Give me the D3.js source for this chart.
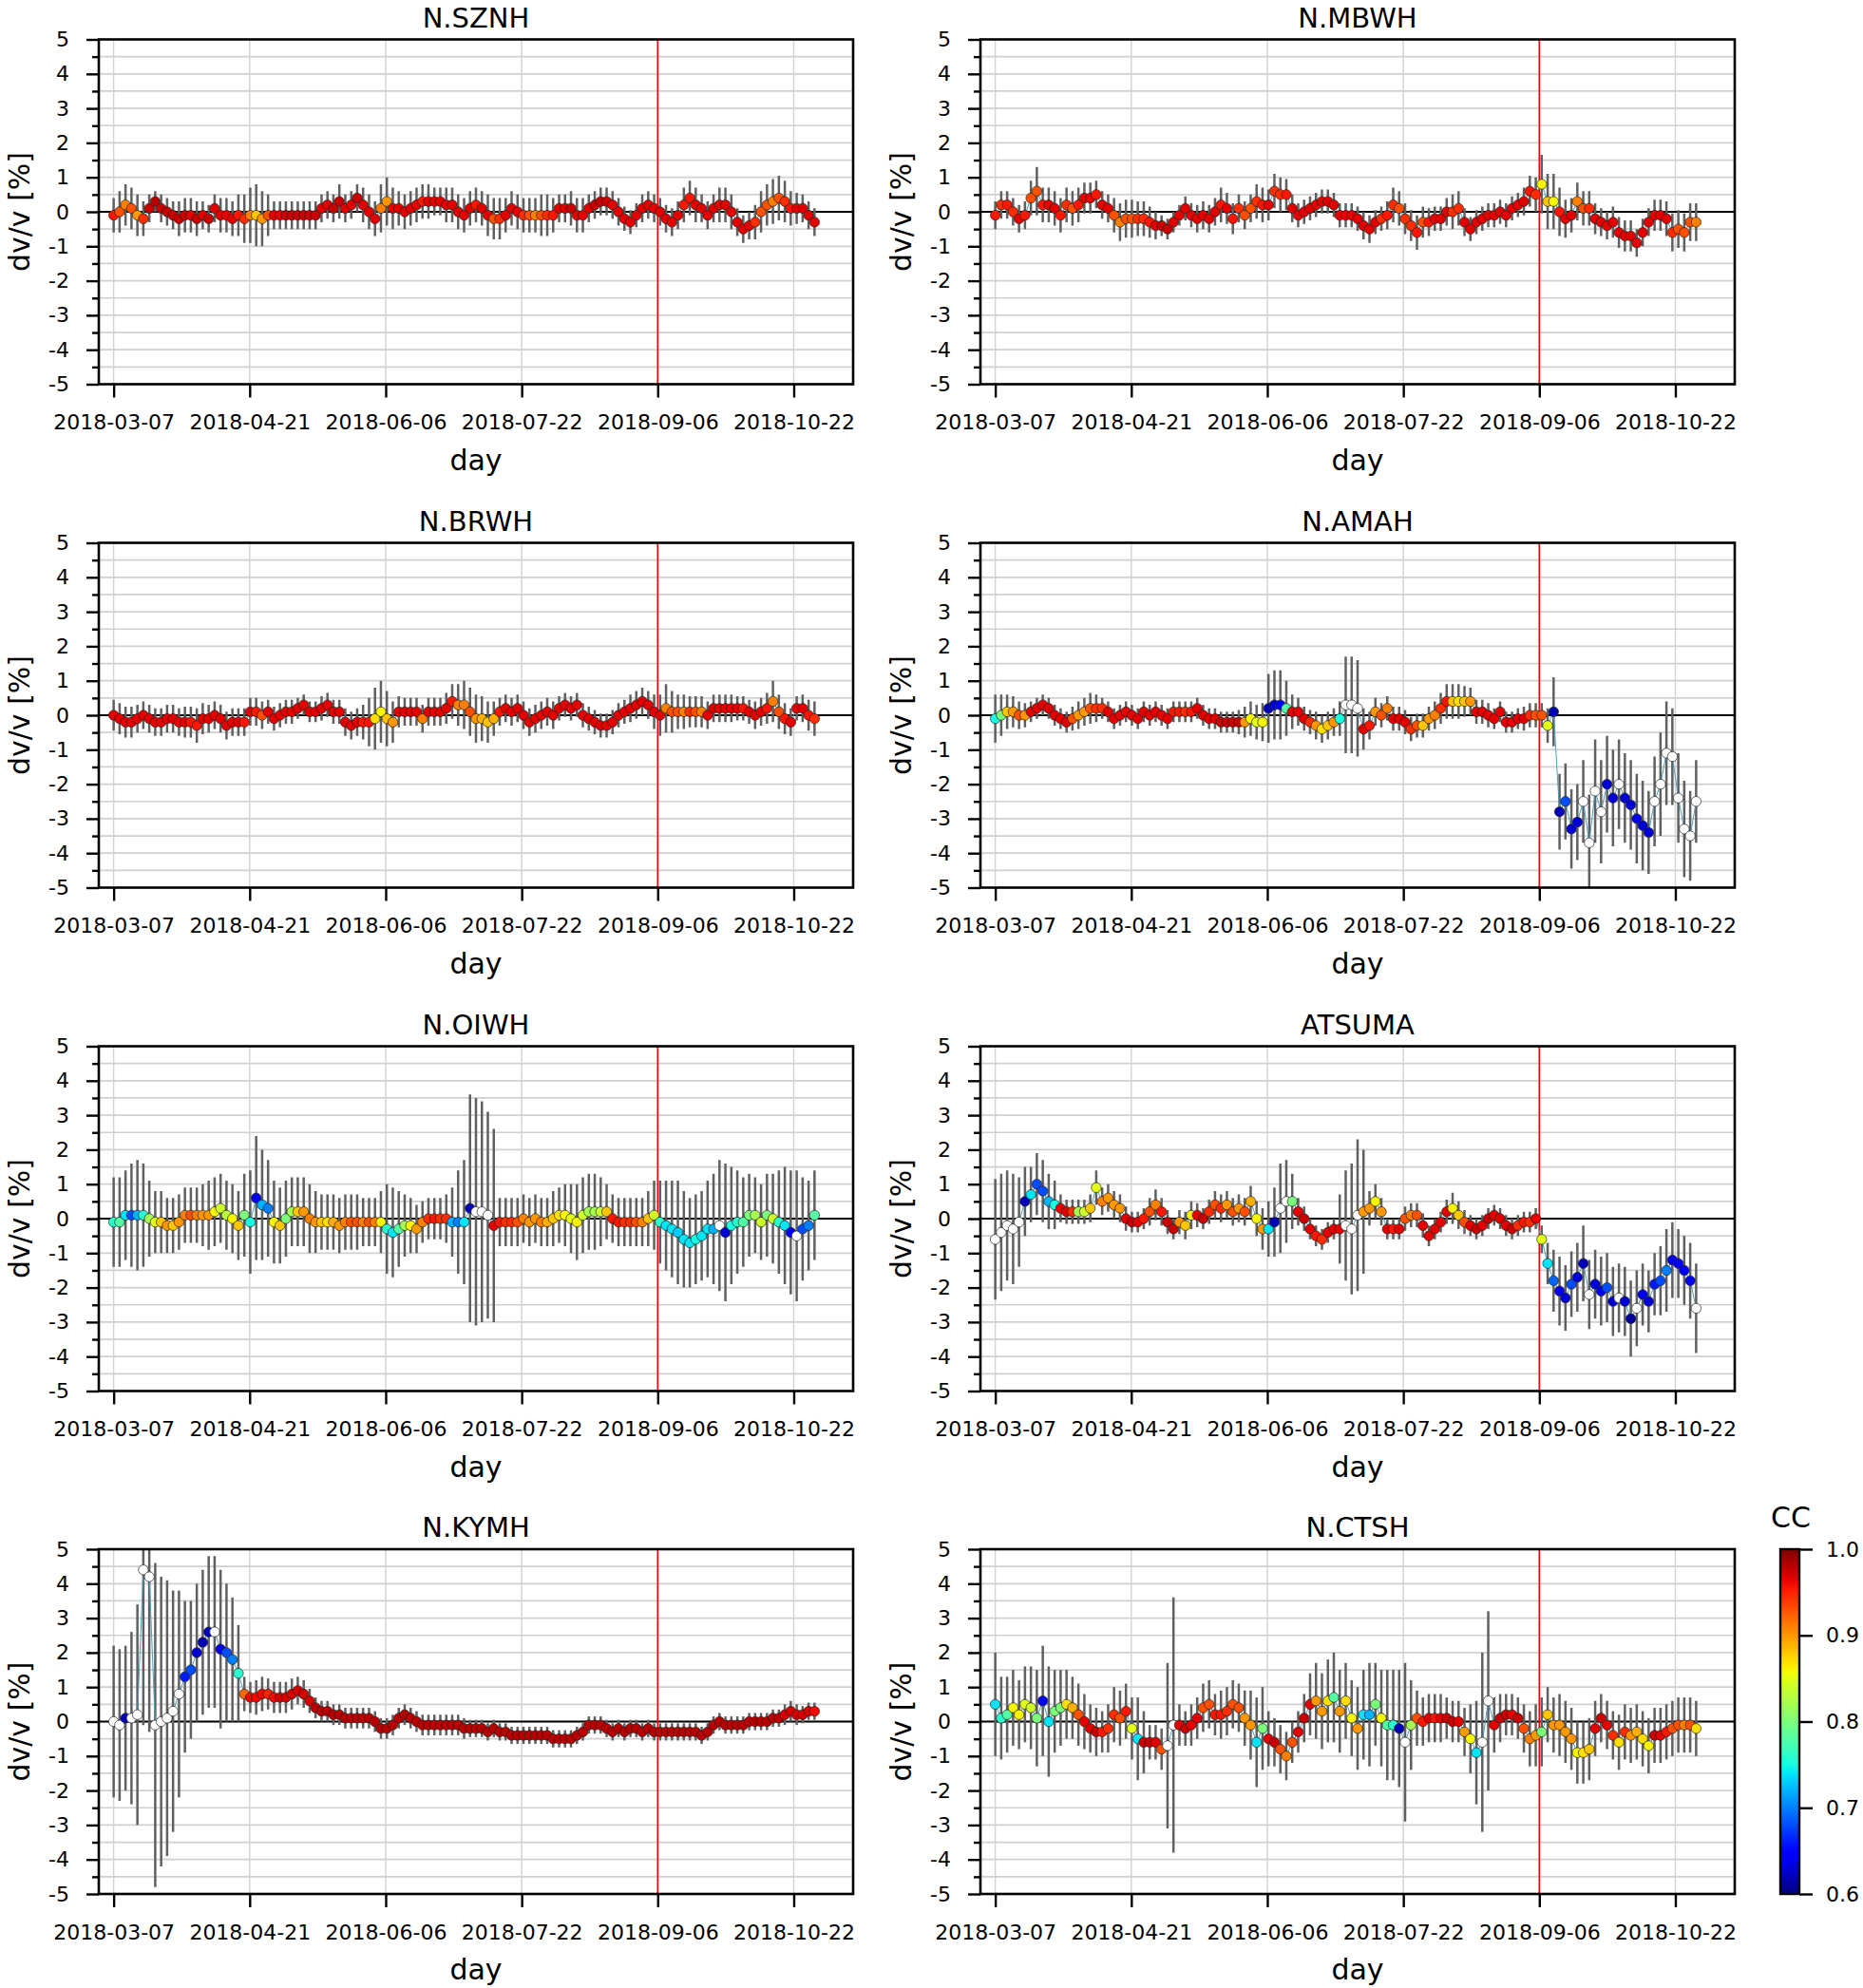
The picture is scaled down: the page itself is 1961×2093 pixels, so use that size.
<!DOCTYPE html>
<html><head><meta charset="utf-8">
<script src="https://cdn.jsdelivr.net/npm/d3@7"></script>
<style>
body{margin:0;background:#fff}
svg{display:block}
text{font-family:"DejaVu Sans",sans-serif;fill:#000}
</style>
</head><body>
<svg id="chart" width="1961" height="2093"></svg>
<script>
// ---------- DATA (one value every 2 days from 2018-03-07) ----------
const stepDays = 2;
const tickDays = [0, 45.8, 91.6, 137.4, 183.2, 229];
const tickLabels = ['2018-03-07','2018-04-21','2018-06-06','2018-07-22','2018-09-06','2018-10-22'];
const quakeDay = 183.2;
const yTicks = [-5,-4,-3,-2,-1,0,1,2,3,4,5];
const ccTicks = [0.6,0.7,0.8,0.9,1.0];
const stationNames = ['N.SZNH','N.MBWH','N.BRWH','N.AMAH','N.OIWH','ATSUMA','N.KYMH','N.CTSH'];

const sznhDv=[-0.1,0.0,0.2,0.1,-0.1,-0.2,0.1,0.3,0.1,0.0,
-0.1,-0.2,-0.1,-0.1,-0.2,-0.1,-0.2,0.1,-0.1,-0.1,
-0.2,-0.1,-0.2,-0.1,-0.1,-0.2,-0.1,-0.1,-0.1,-0.1,
-0.1,-0.1,-0.1,-0.1,-0.1,0.1,0.2,0.1,0.3,0.1,
0.2,0.4,0.2,0.0,-0.2,0.1,0.3,0.1,0.1,0.0,
0.1,0.2,0.3,0.3,0.3,0.3,0.2,0.2,0.0,-0.1,
0.1,0.2,0.1,-0.1,-0.2,-0.2,-0.1,0.1,0.0,-0.1,
-0.1,-0.1,-0.1,-0.1,-0.1,0.1,0.1,0.1,-0.1,-0.1,
0.1,0.2,0.3,0.3,0.2,0.0,-0.2,-0.3,-0.1,0.1,
0.2,0.1,0.0,-0.2,-0.3,-0.1,0.2,0.4,0.2,0.1,
-0.1,0.1,0.2,0.2,0.0,-0.3,-0.5,-0.4,-0.3,0.0,
0.2,0.3,0.4,0.3,0.1,0.1,0.1,-0.1,-0.3];
const sznhErr=[0.5,0.6,0.6,0.6,0.6,0.5,0.4,0.3,0.4,0.4,
0.4,0.5,0.5,0.5,0.5,0.4,0.4,0.4,0.5,0.5,
0.5,0.6,0.7,0.8,0.9,0.8,0.6,0.4,0.4,0.4,
0.4,0.4,0.4,0.4,0.4,0.4,0.4,0.4,0.5,0.4,
0.4,0.4,0.5,0.5,0.5,0.7,0.7,0.6,0.5,0.5,
0.5,0.5,0.5,0.5,0.4,0.4,0.5,0.5,0.5,0.5,
0.5,0.5,0.5,0.6,0.6,0.6,0.5,0.5,0.5,0.5,
0.5,0.5,0.6,0.6,0.5,0.4,0.4,0.5,0.5,0.5,
0.4,0.4,0.4,0.4,0.4,0.4,0.35,0.35,0.35,0.4,
0.4,0.4,0.4,0.4,0.4,0.4,0.5,0.5,0.5,0.4,
0.4,0.4,0.5,0.5,0.5,0.4,0.4,0.4,0.5,0.6,
0.6,0.65,0.65,0.6,0.5,0.45,0.4,0.4,0.4];
const sznhCc=[0.955,0.93,0.91,0.93,0.9,0.945,0.975,0.98,0.975,0.975,
0.975,0.975,0.975,0.965,0.975,0.965,0.975,0.965,0.965,0.965,
0.965,0.955,0.945,0.91,0.88,0.9,0.93,0.965,0.965,0.975,
0.975,0.975,0.975,0.975,0.975,0.965,0.965,0.975,0.975,0.965,
0.965,0.975,0.965,0.965,0.965,0.91,0.9,0.965,0.965,0.965,
0.965,0.965,0.955,0.965,0.965,0.965,0.965,0.965,0.965,0.965,
0.965,0.955,0.965,0.965,0.93,0.945,0.965,0.965,0.965,0.945,
0.93,0.91,0.93,0.945,0.955,0.965,0.965,0.975,0.965,0.965,
0.965,0.975,0.975,0.975,0.965,0.965,0.965,0.965,0.965,0.965,
0.965,0.965,0.965,0.965,0.965,0.965,0.955,0.955,0.965,0.965,
0.965,0.965,0.965,0.965,0.965,0.965,0.965,0.965,0.945,0.93,
0.93,0.91,0.93,0.945,0.955,0.965,0.965,0.965,0.965];

const mbwhDv=[-0.1,0.2,0.2,0.0,-0.2,-0.1,0.4,0.6,0.2,0.2,
0.1,-0.1,0.2,0.1,0.2,0.4,0.4,0.5,0.2,0.1,
-0.1,-0.3,-0.2,-0.2,-0.2,-0.2,-0.3,-0.4,-0.4,-0.5,
-0.3,-0.1,0.1,-0.1,-0.2,-0.1,-0.2,0.0,0.2,0.1,
-0.2,0.1,-0.1,0.1,0.3,0.2,0.2,0.6,0.5,0.5,
0.1,-0.1,0.0,0.1,0.2,0.3,0.3,0.2,-0.1,-0.1,
-0.1,-0.2,-0.4,-0.5,-0.3,-0.2,-0.1,0.2,0.1,-0.2,
-0.4,-0.6,-0.3,-0.3,-0.2,-0.2,0.0,0.0,0.1,-0.3,
-0.5,-0.3,-0.2,-0.1,-0.1,0.0,-0.1,0.1,0.2,0.3,
0.6,0.5,0.8,0.3,0.3,0.0,-0.2,-0.1,0.3,0.1,
0.1,-0.2,-0.3,-0.4,-0.3,-0.6,-0.7,-0.7,-0.9,-0.6,
-0.3,-0.1,-0.1,-0.2,-0.6,-0.5,-0.6,-0.3,-0.3];
const mbwhErr=[0.4,0.4,0.4,0.4,0.4,0.4,0.5,0.7,0.5,0.5,
0.5,0.5,0.5,0.5,0.5,0.45,0.45,0.4,0.4,0.4,
0.5,0.55,0.55,0.55,0.5,0.5,0.45,0.4,0.3,0.3,
0.3,0.3,0.35,0.35,0.4,0.4,0.4,0.4,0.5,0.45,
0.45,0.4,0.4,0.4,0.5,0.5,0.45,0.5,0.5,0.45,
0.4,0.35,0.35,0.35,0.35,0.35,0.35,0.35,0.35,0.35,
0.35,0.35,0.4,0.4,0.35,0.35,0.4,0.5,0.5,0.45,
0.45,0.5,0.45,0.4,0.35,0.35,0.4,0.5,0.5,0.4,
0.35,0.35,0.35,0.35,0.35,0.35,0.35,0.35,0.35,0.4,
0.45,0.5,0.85,0.8,0.8,0.7,0.55,0.5,0.55,0.5,
0.5,0.45,0.4,0.4,0.45,0.45,0.45,0.45,0.4,0.4,
0.4,0.45,0.45,0.5,0.55,0.55,0.55,0.55,0.55];
const mbwhCc=[0.955,0.945,0.955,0.945,0.965,0.955,0.93,0.93,0.955,0.965,
0.965,0.955,0.945,0.93,0.955,0.965,0.965,0.955,0.965,0.965,
0.93,0.91,0.93,0.93,0.945,0.945,0.955,0.965,0.975,0.975,
0.965,0.965,0.965,0.965,0.965,0.965,0.965,0.965,0.955,0.965,
0.955,0.945,0.93,0.93,0.945,0.955,0.965,0.945,0.945,0.955,
0.965,0.965,0.965,0.965,0.965,0.965,0.965,0.965,0.965,0.965,
0.965,0.965,0.965,0.965,0.965,0.945,0.955,0.945,0.93,0.945,
0.945,0.955,0.93,0.955,0.965,0.965,0.965,0.945,0.945,0.965,
0.965,0.965,0.965,0.965,0.965,0.965,0.965,0.965,0.965,0.965,
0.955,0.945,0.86,0.88,0.86,0.955,0.965,0.965,0.91,0.93,
0.945,0.965,0.965,0.965,0.965,0.965,0.965,0.965,0.965,0.965,
0.965,0.965,0.965,0.965,0.945,0.93,0.93,0.93,0.91];

const brwhDv=[0.0,-0.1,-0.2,-0.2,-0.1,0.0,-0.1,-0.2,-0.2,-0.1,
-0.1,-0.2,-0.2,-0.2,-0.3,-0.1,-0.1,0.0,-0.1,-0.3,
-0.2,-0.2,-0.2,0.1,0.1,0.0,0.1,-0.1,0.0,0.1,
0.1,0.2,0.3,0.1,0.1,0.2,0.3,0.1,0.1,-0.2,
-0.3,-0.2,-0.2,-0.2,-0.1,0.1,-0.1,-0.2,0.1,0.1,
0.1,0.1,-0.1,0.1,0.1,0.1,0.2,0.4,0.3,0.3,
0.1,-0.1,-0.1,-0.2,-0.1,0.1,0.2,0.1,0.2,0.0,
-0.2,-0.1,0.0,0.1,0.0,0.2,0.3,0.2,0.3,0.0,
-0.1,-0.2,-0.3,-0.3,-0.2,0.0,0.1,0.2,0.3,0.4,
0.3,0.1,0.0,0.2,0.1,0.1,0.1,0.1,0.1,0.1,
0.0,0.2,0.2,0.2,0.2,0.2,0.2,0.1,0.0,0.1,
0.2,0.4,0.1,-0.1,-0.2,0.2,0.2,0.0,-0.1];
const brwhErr=[0.45,0.45,0.45,0.45,0.4,0.4,0.4,0.4,0.4,0.4,
0.4,0.4,0.45,0.45,0.5,0.45,0.4,0.4,0.4,0.4,
0.4,0.4,0.4,0.4,0.4,0.4,0.35,0.35,0.35,0.35,
0.35,0.3,0.3,0.3,0.3,0.35,0.35,0.35,0.35,0.4,
0.4,0.4,0.5,0.7,0.9,0.9,0.8,0.6,0.45,0.4,
0.4,0.4,0.4,0.4,0.4,0.4,0.45,0.5,0.6,0.7,
0.7,0.7,0.65,0.6,0.5,0.4,0.4,0.4,0.4,0.4,
0.4,0.4,0.4,0.4,0.4,0.35,0.35,0.35,0.35,0.35,
0.35,0.35,0.35,0.35,0.35,0.35,0.35,0.4,0.4,0.4,
0.4,0.5,0.6,0.7,0.6,0.5,0.5,0.45,0.45,0.45,
0.4,0.4,0.4,0.4,0.4,0.35,0.35,0.35,0.4,0.4,
0.45,0.6,0.5,0.45,0.4,0.35,0.4,0.45,0.5];
const brwhCc=[0.965,0.965,0.965,0.965,0.965,0.965,0.965,0.965,0.965,0.965,
0.965,0.965,0.965,0.955,0.955,0.965,0.965,0.965,0.965,0.965,
0.965,0.965,0.955,0.965,0.955,0.93,0.965,0.965,0.965,0.965,
0.965,0.965,0.965,0.965,0.965,0.965,0.965,0.965,0.965,0.965,
0.965,0.965,0.955,0.955,0.87,0.86,0.88,0.9,0.965,0.965,
0.965,0.965,0.91,0.965,0.965,0.965,0.965,0.955,0.91,0.91,
0.93,0.9,0.89,0.88,0.89,0.955,0.965,0.965,0.965,0.965,
0.965,0.965,0.965,0.965,0.965,0.965,0.965,0.965,0.965,0.965,
0.965,0.965,0.965,0.965,0.965,0.965,0.965,0.965,0.965,0.965,
0.965,0.965,0.965,0.91,0.93,0.93,0.91,0.945,0.93,0.91,
0.965,0.965,0.965,0.965,0.965,0.965,0.955,0.965,0.965,0.965,
0.955,0.91,0.93,0.955,0.965,0.965,0.965,0.955,0.945];

const amahDv=[-0.1,0.0,0.1,0.1,0.0,0.0,0.1,0.2,0.3,0.2,
0.0,-0.1,-0.2,-0.1,0.0,0.1,0.2,0.2,0.2,0.1,
-0.1,0.0,0.1,0.0,-0.1,0.1,0.0,0.1,0.0,-0.1,
0.1,0.1,0.1,0.1,0.2,0.0,-0.1,-0.1,-0.2,-0.2,
-0.2,-0.2,-0.2,-0.1,-0.2,-0.2,0.2,0.3,0.3,0.2,
0.1,0.1,-0.1,-0.2,-0.3,-0.4,-0.3,-0.2,-0.1,0.3,
0.3,0.2,-0.4,-0.3,0.1,0.0,0.2,-0.1,-0.1,-0.2,
-0.4,-0.3,-0.3,-0.1,0.0,0.2,0.4,0.4,0.4,0.4,
0.4,0.1,0.1,0.0,-0.1,0.1,-0.2,-0.2,-0.1,-0.1,
0.0,0.0,0.0,-0.3,0.1,-2.8,-2.5,-3.3,-3.1,-2.5,
-3.7,-2.2,-2.8,-2.0,-2.4,-2.0,-2.4,-2.6,-3.0,-3.2,
-3.4,-2.5,-2.0,-1.1,-1.2,-2.4,-3.3,-3.5,-2.5];
const amahErr=[0.7,0.6,0.5,0.45,0.4,0.35,0.3,0.3,0.3,0.3,
0.3,0.3,0.3,0.35,0.4,0.4,0.45,0.4,0.3,0.3,
0.3,0.3,0.3,0.3,0.3,0.3,0.3,0.3,0.3,0.3,
0.3,0.3,0.3,0.3,0.3,0.3,0.3,0.3,0.3,0.3,
0.3,0.35,0.45,0.5,0.5,0.55,1.0,1.0,1.0,0.8,
0.5,0.4,0.35,0.35,0.4,0.4,0.4,0.4,0.5,1.4,
1.4,1.4,0.6,0.4,0.4,0.35,0.35,0.35,0.35,0.35,
0.35,0.35,0.35,0.35,0.4,0.45,0.5,0.5,0.5,0.45,
0.4,0.35,0.35,0.35,0.3,0.3,0.3,0.3,0.3,0.35,
0.35,0.35,0.35,0.5,1.0,1.1,1.1,1.15,1.1,1.2,
1.4,1.5,1.5,1.4,1.4,1.3,1.3,1.3,1.3,1.3,
1.2,1.3,1.5,1.5,1.4,1.3,1.4,1.3,1.2];
const amahCc=[0.75,0.8,0.88,0.9,0.93,0.9,0.965,0.965,0.965,0.965,
0.965,0.965,0.965,0.93,0.9,0.9,0.93,0.945,0.945,0.965,
0.965,0.965,0.965,0.965,0.965,0.965,0.965,0.965,0.965,0.965,
0.955,0.955,0.945,0.955,0.965,0.965,0.965,0.965,0.975,0.975,
0.975,0.975,0.9,0.86,0.85,0.86,0.62,0.63,0.65,0.78,
0.965,0.965,0.965,0.945,0.9,0.87,0.88,0.9,0.75,0.5,
0.5,0.55,0.965,0.955,0.9,0.93,0.91,0.965,0.965,0.965,
0.945,0.93,0.88,0.9,0.91,0.945,0.955,0.88,0.87,0.88,
0.9,0.965,0.965,0.965,0.965,0.965,0.965,0.965,0.965,0.965,
0.945,0.93,0.93,0.85,0.62,0.62,0.68,0.63,0.63,0.5,
0.5,0.5,0.5,0.63,0.63,0.5,0.63,0.63,0.64,0.63,
0.63,0.5,0.5,0.5,0.5,0.5,0.5,0.5,0.5];

const oiwhDv=[-0.1,-0.1,0.1,0.1,0.1,0.1,0.0,-0.1,-0.1,-0.2,
-0.2,-0.1,0.1,0.1,0.1,0.1,0.1,0.2,0.3,0.1,
0.0,-0.2,0.1,-0.1,0.6,0.4,0.3,-0.1,-0.2,0.0,
0.2,0.2,0.2,0.0,-0.1,-0.1,-0.1,-0.1,-0.2,-0.1,
-0.1,-0.1,-0.1,-0.1,-0.1,-0.1,-0.3,-0.4,-0.3,-0.2,
-0.2,-0.3,-0.1,0.0,0.0,0.0,0.0,-0.1,-0.1,-0.1,
0.3,0.2,0.2,0.1,-0.2,-0.1,-0.1,-0.1,-0.1,0.0,
-0.1,0.0,-0.1,-0.1,0.0,0.1,0.1,0.0,-0.1,0.1,
0.2,0.2,0.2,0.2,0.0,-0.1,-0.1,-0.1,-0.1,-0.1,
0.0,0.1,-0.1,-0.2,-0.3,-0.4,-0.6,-0.7,-0.6,-0.5,
-0.3,-0.3,-0.2,-0.4,-0.2,-0.1,-0.1,0.1,0.1,-0.1,
0.1,0.0,-0.1,-0.2,-0.4,-0.5,-0.3,-0.2,0.1];
const oiwhErr=[1.3,1.3,1.3,1.5,1.6,1.5,1.1,0.9,0.9,0.8,
0.8,0.8,0.8,0.8,0.8,0.9,1.0,1.0,1.0,1.0,
1.0,1.0,1.2,1.5,1.8,1.6,1.4,1.2,1.1,1.1,
1.0,1.0,1.0,1.0,0.9,0.8,0.8,0.8,0.8,0.8,
0.8,0.8,0.7,0.7,0.7,0.9,1.3,1.3,1.1,0.9,
0.8,0.7,0.6,0.6,0.6,0.6,0.7,1.0,1.5,1.8,
3.3,3.3,3.2,3.0,2.8,0.7,0.7,0.7,0.7,0.7,
0.7,0.7,0.7,0.7,0.8,0.8,0.9,1.0,1.1,1.1,
1.1,1.1,1.0,0.8,0.7,0.7,0.7,0.7,0.7,0.7,
0.8,1.0,1.2,1.3,1.4,1.5,1.4,1.3,1.3,1.3,
1.4,1.6,1.9,2.0,1.7,1.5,1.3,1.2,1.1,1.1,
1.2,1.3,1.5,1.7,1.8,1.9,1.5,1.3,1.3];
const oiwhCc=[0.76,0.78,0.74,0.68,0.72,0.76,0.82,0.85,0.88,0.9,
0.88,0.9,0.91,0.93,0.91,0.9,0.9,0.86,0.84,0.83,
0.86,0.88,0.8,0.75,0.64,0.72,0.7,0.86,0.88,0.8,
0.82,0.88,0.9,0.91,0.9,0.88,0.87,0.89,0.9,0.91,
0.93,0.93,0.91,0.93,0.91,0.86,0.76,0.74,0.78,0.82,
0.86,0.9,0.91,0.945,0.955,0.945,0.945,0.72,0.7,0.74,
0.62,0.55,0.55,0.55,0.965,0.955,0.945,0.945,0.93,0.91,
0.9,0.9,0.91,0.89,0.88,0.87,0.86,0.85,0.86,0.84,
0.82,0.82,0.84,0.88,0.955,0.955,0.945,0.945,0.93,0.91,
0.88,0.84,0.76,0.74,0.74,0.73,0.74,0.74,0.75,0.74,
0.74,0.72,0.55,0.63,0.75,0.76,0.78,0.8,0.82,0.84,
0.8,0.84,0.76,0.74,0.64,0.55,0.68,0.7,0.78];

const atsumaDv=[-0.6,-0.4,-0.2,-0.3,-0.1,0.5,0.7,1.0,0.8,0.5,
0.4,0.3,0.2,0.2,0.2,0.2,0.3,0.9,0.5,0.6,
0.4,0.3,0.0,-0.1,-0.1,0.0,0.2,0.4,0.2,-0.1,
-0.3,-0.1,-0.2,0.1,0.1,0.0,0.2,0.4,0.3,0.4,
0.2,0.3,0.2,0.5,0.0,-0.3,-0.3,-0.1,0.3,0.5,
0.5,0.2,0.0,-0.3,-0.5,-0.6,-0.4,-0.3,-0.3,-0.2,
-0.3,0.1,0.2,0.3,0.5,0.2,-0.3,-0.3,-0.3,0.0,
0.1,0.1,-0.2,-0.5,-0.3,-0.1,0.2,0.3,0.1,-0.1,
-0.2,-0.3,-0.2,0.0,0.1,0.0,-0.2,-0.3,-0.2,-0.1,
-0.1,0.0,-0.6,-1.3,-1.8,-2.1,-2.3,-1.9,-1.7,-1.3,
-2.2,-1.9,-2.1,-2.0,-2.4,-2.3,-2.4,-2.9,-2.6,-2.2,
-2.4,-1.9,-1.8,-1.5,-1.2,-1.3,-1.5,-1.8,-2.6];
const atsumaErr=[1.75,1.7,1.6,1.6,1.3,1.0,0.8,0.9,0.9,0.8,
0.7,0.4,0.35,0.35,0.35,0.35,0.4,0.5,0.4,0.4,
0.4,0.4,0.35,0.3,0.3,0.3,0.4,0.45,0.4,0.35,
0.3,0.35,0.4,0.4,0.35,0.3,0.35,0.4,0.4,0.4,
0.4,0.4,0.4,0.45,0.5,0.6,0.8,1.0,1.3,1.2,
0.8,0.4,0.35,0.3,0.3,0.3,0.3,0.3,1.0,1.6,
1.9,2.2,1.8,0.5,0.5,0.4,0.3,0.3,0.3,0.35,
0.35,0.35,0.35,0.3,0.3,0.3,0.35,0.45,0.4,0.35,
0.3,0.3,0.3,0.3,0.3,0.3,0.3,0.3,0.3,0.3,
0.3,0.3,0.4,0.6,0.9,1.0,0.95,0.95,1.0,1.1,
1.0,1.0,1.0,1.0,1.0,1.0,1.0,1.1,1.1,0.9,
0.9,0.9,1.0,1.2,1.1,1.0,1.0,1.1,1.3];
const atsumaCc=[0.5,0.5,0.5,0.5,0.5,0.62,0.74,0.68,0.68,0.72,
0.75,0.965,0.965,0.945,0.82,0.84,0.88,0.85,0.91,0.9,
0.9,0.9,0.965,0.975,0.965,0.955,0.93,0.91,0.955,0.975,
0.975,0.9,0.88,0.86,0.965,0.975,0.945,0.93,0.945,0.9,
0.93,0.9,0.93,0.89,0.86,0.9,0.74,0.62,0.55,0.55,
0.8,0.965,0.975,0.965,0.955,0.945,0.965,0.965,0.965,0.55,
0.55,0.55,0.9,0.9,0.86,0.9,0.965,0.955,0.965,0.93,
0.91,0.93,0.965,0.965,0.965,0.965,0.965,0.86,0.88,0.93,
0.965,0.975,0.965,0.975,0.965,0.965,0.965,0.975,0.945,0.955,
0.945,0.965,0.85,0.74,0.69,0.64,0.63,0.68,0.63,0.62,
0.5,0.63,0.64,0.68,0.63,0.5,0.63,0.61,0.5,0.64,
0.63,0.66,0.68,0.7,0.64,0.65,0.64,0.64,0.5];

const kymhDv=[0.0,-0.1,0.1,0.1,0.2,4.4,4.2,-0.1,0.0,0.1,
0.3,0.8,1.3,1.5,2.0,2.3,2.6,2.6,2.1,2.0,
1.8,1.4,0.8,0.7,0.7,0.8,0.8,0.7,0.7,0.7,
0.8,0.9,0.8,0.6,0.4,0.3,0.3,0.2,0.2,0.1,
0.1,0.1,0.1,0.1,0.0,-0.2,-0.2,-0.1,0.1,0.2,
0.1,0.0,-0.1,-0.1,-0.1,-0.1,-0.1,-0.1,-0.1,-0.2,
-0.2,-0.2,-0.2,-0.3,-0.2,-0.3,-0.3,-0.4,-0.4,-0.4,
-0.4,-0.4,-0.4,-0.4,-0.5,-0.5,-0.5,-0.5,-0.4,-0.3,
-0.1,-0.1,-0.1,-0.2,-0.3,-0.2,-0.3,-0.2,-0.2,-0.3,
-0.2,-0.3,-0.3,-0.3,-0.3,-0.3,-0.3,-0.3,-0.3,-0.4,
-0.3,-0.1,0.0,-0.1,-0.1,-0.1,-0.1,0.0,0.0,0.0,
0.0,0.1,0.1,0.2,0.3,0.2,0.2,0.3,0.3];
const kymhErr=[2.2,2.2,2.1,2.5,3.2,4.5,4.5,4.7,4.2,4.0,
3.5,3.0,2.2,2.0,2.0,2.1,2.2,2.2,2.3,2.0,
1.8,1.4,0.5,0.45,0.5,0.5,0.45,0.45,0.45,0.45,
0.45,0.4,0.4,0.35,0.3,0.3,0.3,0.3,0.3,0.3,
0.3,0.3,0.3,0.3,0.3,0.3,0.3,0.3,0.3,0.3,
0.3,0.3,0.3,0.3,0.3,0.3,0.3,0.3,0.3,0.3,
0.25,0.25,0.25,0.25,0.25,0.25,0.25,0.25,0.25,0.25,
0.25,0.25,0.25,0.25,0.25,0.25,0.25,0.25,0.25,0.25,
0.25,0.25,0.25,0.25,0.25,0.25,0.25,0.25,0.25,0.25,
0.25,0.25,0.25,0.25,0.25,0.25,0.25,0.25,0.25,0.25,
0.25,0.25,0.25,0.25,0.25,0.25,0.25,0.25,0.25,0.25,
0.25,0.25,0.25,0.3,0.3,0.3,0.25,0.25,0.25];
const kymhCc=[0.5,0.5,0.62,0.5,0.5,0.5,0.5,0.5,0.5,0.5,
0.5,0.5,0.66,0.68,0.63,0.62,0.62,0.5,0.64,0.68,
0.7,0.76,0.92,0.96,0.96,0.96,0.95,0.96,0.97,0.97,
0.97,0.97,0.97,0.97,0.98,0.98,0.98,0.98,0.98,0.98,
0.98,0.98,0.98,0.98,0.98,0.98,0.98,0.98,0.98,0.98,
0.98,0.98,0.98,0.98,0.98,0.98,0.98,0.98,0.98,0.98,
0.98,0.98,0.98,0.98,0.98,0.98,0.98,0.98,0.98,0.98,
0.98,0.98,0.98,0.98,0.98,0.98,0.98,0.98,0.98,0.98,
0.98,0.98,0.98,0.98,0.98,0.98,0.98,0.98,0.98,0.98,
0.98,0.98,0.98,0.98,0.98,0.98,0.98,0.98,0.98,0.98,
0.98,0.98,0.98,0.98,0.98,0.98,0.98,0.98,0.98,0.98,
0.98,0.98,0.98,0.97,0.97,0.97,0.97,0.97,0.96];

const ctshDv=[0.5,0.1,0.2,0.4,0.2,0.5,0.4,0.1,0.6,0.0,
0.3,0.4,0.5,0.4,0.2,0.0,-0.2,-0.3,-0.3,-0.2,
0.2,0.1,0.3,-0.2,-0.5,-0.6,-0.6,-0.6,-0.8,-0.7,
-0.1,-0.1,-0.2,-0.1,0.1,0.4,0.5,0.2,0.2,0.3,
0.5,0.4,0.1,-0.1,-0.6,-0.2,-0.5,-0.6,-0.8,-1.0,
-0.6,-0.3,0.1,0.5,0.6,0.3,0.6,0.7,0.3,0.6,
0.1,-0.2,0.2,0.2,0.5,0.1,-0.1,-0.1,-0.2,-0.6,
-0.1,0.1,0.0,0.1,0.1,0.1,0.1,0.0,0.0,-0.3,
-0.5,-0.9,-0.6,0.6,-0.1,0.1,0.2,0.2,0.1,-0.2,
-0.5,-0.4,-0.3,0.2,-0.1,-0.1,-0.3,-0.5,-0.9,-0.9,
-0.8,-0.2,0.1,-0.1,-0.4,-0.6,-0.3,-0.4,-0.3,-0.5,
-0.7,-0.4,-0.4,-0.3,-0.2,-0.1,-0.1,-0.1,-0.2];
const ctshErr=[1.5,1.2,1.1,1.1,1.0,1.1,1.2,1.4,1.6,1.6,
1.2,1.1,1.0,0.9,0.9,0.8,0.7,0.7,0.6,0.7,
0.8,0.8,0.8,0.9,1.2,0.9,0.5,0.5,0.6,2.4,
3.7,0.6,0.5,0.6,0.6,0.7,0.7,0.6,0.7,0.7,
0.7,0.7,0.8,1.0,1.3,1.2,0.8,0.7,0.7,0.7,
0.6,0.6,0.7,0.9,1.1,1.1,1.2,1.3,1.2,1.1,
1.1,1.2,1.3,1.5,1.2,1.4,1.6,1.6,1.7,2.3,
1.3,0.8,0.7,0.7,0.7,0.7,0.6,0.6,0.6,0.7,
1.0,1.5,2.6,2.6,0.8,0.7,0.6,0.6,0.6,0.7,
0.8,0.9,1.0,0.8,0.8,0.9,0.9,0.9,0.9,0.9,
0.9,0.8,0.7,0.7,0.7,0.8,0.8,0.8,0.8,0.8,
0.8,0.8,0.8,0.8,0.8,0.8,0.8,0.8,0.8];
const ctshCc=[0.74,0.76,0.78,0.86,0.86,0.85,0.84,0.8,0.64,0.74,
0.8,0.8,0.87,0.89,0.93,0.965,0.965,0.975,0.955,0.945,
0.945,0.93,0.955,0.85,0.74,0.975,0.975,0.965,0.93,0.55,
0.55,0.965,0.975,0.965,0.965,0.93,0.93,0.955,0.955,0.945,
0.93,0.93,0.9,0.9,0.74,0.8,0.965,0.975,0.93,0.91,
0.93,0.965,0.975,0.965,0.9,0.9,0.87,0.78,0.9,0.87,
0.86,0.9,0.74,0.72,0.8,0.86,0.78,0.76,0.62,0.55,
0.82,0.93,0.955,0.965,0.955,0.965,0.975,0.975,0.965,0.9,
0.86,0.74,0.55,0.55,0.965,0.975,0.975,0.965,0.975,0.93,
0.91,0.9,0.8,0.88,0.9,0.9,0.9,0.9,0.86,0.87,
0.88,0.965,0.975,0.965,0.945,0.87,0.945,0.9,0.89,0.87,
0.86,0.975,0.965,0.955,0.93,0.93,0.91,0.93,0.87];

// ---------- LAYOUT ----------
const W = 794, H = 363;
const colX = [104, 1032];
const rowY = [41.5, 571.5, 1101.5, 1631];
const panels = [
  {dv:sznhDv, err:sznhErr, cc:sznhCc},
  {dv:mbwhDv, err:mbwhErr, cc:mbwhCc},
  {dv:brwhDv, err:brwhErr, cc:brwhCc},
  {dv:amahDv, err:amahErr, cc:amahCc},
  {dv:oiwhDv, err:oiwhErr, cc:oiwhCc},
  {dv:atsumaDv, err:atsumaErr, cc:atsumaCc},
  {dv:kymhDv, err:kymhErr, cc:kymhCc},
  {dv:ctshDv, err:ctshErr, cc:ctshCc}
];

// jet colormap
const jetR = d3.scaleLinear().domain([0,0.35,0.66,0.89,1]).range([0,0,1,1,0.5]).clamp(true);
const jetG = d3.scaleLinear().domain([0,0.125,0.375,0.64,0.91,1]).range([0,0,1,1,0,0]).clamp(true);
const jetB = d3.scaleLinear().domain([0,0.11,0.34,0.65,1]).range([0.5,1,1,0,0]).clamp(true);
const ccNorm = d3.scaleLinear().domain([0.6,1.0]).range([0,1]).clamp(true);
function jet(t){ return d3.rgb(jetR(t)*255, jetG(t)*255, jetB(t)*255).formatHex(); }
function ccColor(c){ return c < 0.6 ? '#ffffff' : jet(ccNorm(c)); }

const svg = d3.select('#chart');
const defs = svg.append('defs');

const x = d3.scaleLinear().domain([-5, 249]).range([0, W]);
const y = d3.scaleLinear().domain([-5, 5]).range([H, 0]);

panels.forEach((p, k) => {
  const col = k % 2, row = Math.floor(k / 2);
  const g = svg.append('g').attr('transform', `translate(${colX[col]},${rowY[row]})`);
  const cid = 'clip' + k;
  defs.append('clipPath').attr('id', cid).append('rect').attr('width', W).attr('height', H);

  // grid
  const grid = g.append('g');
  grid.selectAll('line.h').data(d3.range(-4.5, 5, 0.5)).join('line')
    .attr('x1', 0).attr('x2', W).attr('y1', d => y(d)).attr('y2', d => y(d))
    .attr('stroke', '#d0d0d0').attr('stroke-width', 1.7);
  grid.selectAll('line.v').data(tickDays).join('line')
    .attr('x1', d => x(d)).attr('x2', d => x(d)).attr('y1', 0).attr('y2', H)
    .attr('stroke', '#d3d3d3').attr('stroke-width', 1.4);

  // zero line & earthquake line
  g.append('line').attr('x1', 0).attr('x2', W).attr('y1', y(0)).attr('y2', y(0))
    .attr('stroke', '#000').attr('stroke-width', 2);
  g.append('line').attr('x1', x(quakeDay)).attr('x2', x(quakeDay)).attr('y1', 0).attr('y2', H)
    .attr('stroke', '#ff0000').attr('stroke-width', 1.6);

  const pts = p.dv.map((v, i) => ({d: i * stepDays, v, e: p.err[i], c: p.cc[i]}));
  const plot = g.append('g').attr('clip-path', `url(#${cid})`);
  plot.selectAll('line.eb').data(pts).join('line')
    .attr('x1', d => x(d.d)).attr('x2', d => x(d.d))
    .attr('y1', d => y(d.v - d.e)).attr('y2', d => y(d.v + d.e))
    .attr('stroke', '#606060').attr('stroke-width', 2.5);
  plot.append('path').datum(pts)
    .attr('d', d3.line().x(d => x(d.d)).y(d => y(d.v)))
    .attr('fill', 'none').attr('stroke', '#4a9fbd').attr('stroke-width', 1);
  plot.selectAll('circle').data(pts).join('circle')
    .attr('cx', d => x(d.d)).attr('cy', d => y(d.v)).attr('r', 5.2)
    .attr('fill', d => ccColor(d.c)).attr('stroke', '#222').attr('stroke-width', 0.7);

  // frame
  g.append('rect').attr('width', W).attr('height', H).attr('fill', 'none')
    .attr('stroke', '#000').attr('stroke-width', 2.6);

  // axes
  const ya = g.append('g').call(d3.axisLeft(y).tickValues(yTicks).tickSize(13).tickPadding(18).tickFormat(d => String(d)));
  const yMinor = g.append('g').call(d3.axisLeft(y).tickValues(d3.range(-4.5, 5, 1)).tickSize(7).tickFormat(''));
  const xa = g.append('g').attr('transform', `translate(0,${H})`)
    .call(d3.axisBottom(x).tickValues(tickDays).tickSize(14).tickPadding(18).tickFormat((d, i) => tickLabels[i]));
  [ya, yMinor, xa].forEach(a => {
    a.select('.domain').remove();
    a.selectAll('line').attr('stroke', '#000').attr('stroke-width', 2.4);
    a.selectAll('text').attr('font-family', '"DejaVu Sans",sans-serif').attr('font-size', 22).attr('fill', '#000');
  });

  // labels
  g.append('text').attr('x', W / 2).attr('y', -13).attr('text-anchor', 'middle')
    .attr('font-size', 29).text(stationNames[k]);
  g.append('text').attr('x', W / 2).attr('y', H + 90).attr('text-anchor', 'middle')
    .attr('font-size', 30).text('day');
  g.append('text').attr('transform', `translate(-73,${H / 2}) rotate(-90)`).attr('text-anchor', 'middle')
    .attr('font-size', 30).text('dv/v [%]');
});

// ---------- COLORBAR ----------
const cbX = 1874, cbY = 1631, cbW = 20, cbH = 363;
const grad = defs.append('linearGradient').attr('id', 'jetgrad')
  .attr('x1', 0).attr('y1', 1).attr('x2', 0).attr('y2', 0);
d3.range(0, 1.0001, 0.02).forEach(t => {
  grad.append('stop').attr('offset', t).attr('stop-color', jet(t));
});
const cb = svg.append('g').attr('transform', `translate(${cbX},${cbY})`);
cb.append('rect').attr('width', cbW).attr('height', cbH).attr('fill', 'url(#jetgrad)')
  .attr('stroke', '#000').attr('stroke-width', 2.4);
const ccScale = d3.scaleLinear().domain([0.6, 1.0]).range([cbH, 0]);
const cba = cb.append('g').attr('transform', `translate(${cbW},0)`)
  .call(d3.axisRight(ccScale).tickValues(ccTicks).tickSize(14).tickPadding(14).tickFormat(d3.format('.1f')));
cba.select('.domain').remove();
cba.selectAll('line').attr('stroke', '#000').attr('stroke-width', 2.4);
cba.selectAll('text').attr('font-family', '"DejaVu Sans",sans-serif').attr('font-size', 22).attr('fill', '#000');
cb.append('text').attr('x', cbW / 2 + 1).attr('y', -23).attr('text-anchor', 'middle')
  .attr('font-size', 30).text('CC');
</script>
</body></html>
